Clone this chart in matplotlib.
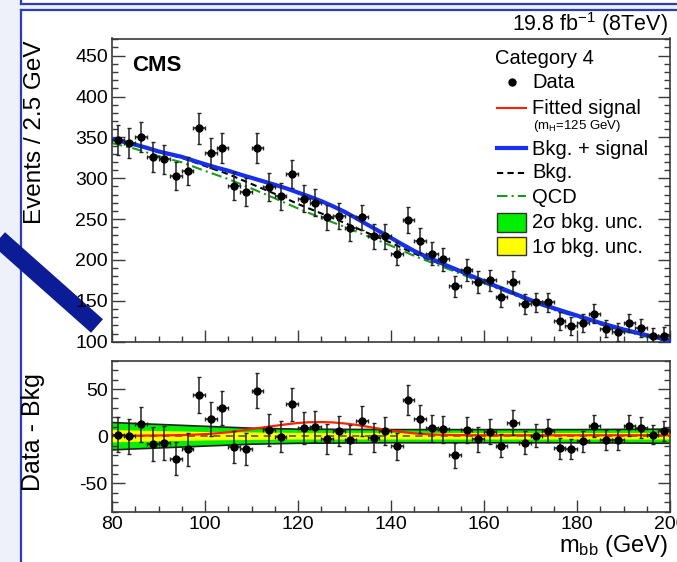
import numpy as np
import matplotlib
matplotlib.use('Agg')
import matplotlib.pyplot as plt
from matplotlib.lines import Line2D
from matplotlib.patches import Rectangle
from matplotlib.ticker import MultipleLocator

# ---------------- data ----------------
mass = [81.25, 83.75, 86.25, 88.75, 91.25, 93.75, 96.25, 98.75, 101.25, 103.75,
        106.25, 108.75, 111.25, 113.75, 116.25, 118.75, 121.25, 123.75, 126.25, 128.75,
        131.25, 133.75, 136.25, 138.75, 141.25, 143.75, 146.25, 148.75, 151.25, 153.75,
        156.25, 158.75, 161.25, 163.75, 166.25, 168.75, 171.25, 173.75, 176.25, 178.75,
        181.25, 183.75, 186.25, 188.75, 191.25, 193.75, 196.25, 198.75]
bin_half_width = 1.25
events = [347, 343, 350.6, 326, 323, 303, 309, 361, 331, 337.5,
          291, 283, 337.5, 289.6, 278, 305, 274.8, 270, 252, 254,
          239, 252, 229, 229, 207.7, 248.6, 223.7, 207.7, 201, 167.6,
          188, 173, 175, 154.5, 173, 146, 148, 148, 125.4, 119.7,
          123.3, 134.4, 116, 112, 123.3, 117, 107, 107.4]
data_minus_bkg = [1.4, 0, 12.6, -8.4, -7, -24, -13.7, 43.8, 18, 30,
                  -11.3, -13.4, 48.4, 6.6, -0.4, 33.7, 8.7, 9.8, -2.5, 5.6,
                  -3.9, 16, -1.4, 5.6, -10.5, 38.2, 18.5, 8.4, 7.4, -20.4,
                  6.3, -3.2, 4.8, -9.9, 14.4, -6.7, 0.3, 5.6, -12.6, -13.7,
                  -5.3, 10.5, -3.9, -3.9, 11.2, 9, 1.7, 5.6]

curve_mass = [80, 82.5, 85, 87.5, 90, 92.5, 95, 97.5, 100, 102.5, 105, 107.5, 110, 112.5,
              115, 117.5, 120, 122.5, 125, 127.5, 130, 132.5, 135, 137.5, 140, 142.5, 145,
              147.5, 150, 152.5, 155, 157.5, 160, 162.5, 165, 167.5, 170, 172.5, 175, 177.5,
              180, 182.5, 185, 187.5, 190, 192.5, 195, 197.5, 200]
bkg_curve = [347.5, 344, 340.5, 336.5, 332, 328.5, 325, 320, 315, 310, 305, 299, 293, 287,
             281, 275, 268.5, 262.7, 257, 251.2, 245.5, 239.2, 233, 227, 221, 214.5, 208,
             202.2, 196.5, 190.7, 185, 179, 173, 167.2, 161.5, 155.7, 150, 145, 140, 135.5,
             131, 126.5, 122, 118, 114, 110.5, 107, 103.7, 100.5]
signal_curve = [0.5, 0.55, 0.6, 0.7, 0.8, 1.0, 1.2, 1.6, 2.2, 3.0, 4.2, 5.7, 7.5, 9.3,
                11.0, 12.6, 14.0, 14.8, 15.0, 14.6, 13.5, 12.0, 10.0, 8.0, 6.0, 4.4, 3.0,
                2.2, 1.6, 1.3, 1.1, 1.0, 1.0, 1.0, 1.0, 1.0, 1.0, 1.0, 1.0, 1.0,
                1.0, 1.0, 1.0, 1.0, 1.0, 1.0, 1.0, 1.0, 1.0]
qcd_mass = [80, 85, 90, 95, 100, 105, 110, 115, 120, 125, 130, 135, 140, 145, 150, 155,
            160, 165, 170, 175, 180, 185, 190, 195, 200]
qcd_curve = [343, 336, 327, 319.5, 309, 299, 287.5, 275.5, 263, 251.5, 240.5, 229, 217.5,
             205, 194, 183, 171.5, 160.5, 149, 139, 130, 121, 113, 106, 99.5]

band_mass = [80, 90, 100, 110, 120, 140, 160, 180, 200]
two_sigma = [14.5, 12.5, 10.5, 8.5, 7.5, 7, 7, 7, 7.5]
one_sigma = [6.5, 5.5, 4.5, 4, 3.5, 3.5, 3.5, 3.5, 3.5]

x_ticks = [80, 100, 120, 140, 160, 180, 200]

legend_title = 'Category 4'
legend_labels = ['Data', 'Fitted signal', 'Bkg. + signal', 'Bkg.', 'QCD',
                 '2σ bkg. unc.', '1σ bkg. unc.']
signal_note = r'(m$_{\mathrm{H}}$=125 GeV)'

# ---------------- style ----------------
plt.rcParams['font.family'] = ['Liberation Sans', 'DejaVu Sans']
plt.rcParams['mathtext.fontset'] = 'custom'
plt.rcParams['mathtext.rm'] = 'Liberation Sans'
plt.rcParams['mathtext.it'] = 'Liberation Sans:italic'
plt.rcParams['mathtext.bf'] = 'Liberation Sans:bold'
plt.rcParams['axes.unicode_minus'] = False

W, H = 677, 562
fig = plt.figure(figsize=(W / 100, H / 100), dpi=100)
fig.patch.set_facecolor('#eef0fa')

def fx(px):
    return px / W

def fy(py):
    return 1 - py / H

# slide decorations
fig.add_artist(Rectangle((fx(21), 0), 1, fy(10), transform=fig.transFigure,
                         facecolor='white', edgecolor='none', zorder=-3))
fig.add_artist(Rectangle((fx(21), fy(3)), 1, 1, transform=fig.transFigure,
                         facecolor='white', edgecolor='none', zorder=-3))
blue = '#2a3db8'
for xs, ys in [([20.5, 20.5], [562, 9.5]), ([20.5, 20.5], [3.5, 0]),
               ([20.5, 677], [9.5, 9.5]), ([20.5, 677], [3.5, 3.5])]:
    fig.add_artist(Line2D([fx(v) for v in xs], [fy(v) for v in ys],
                          transform=fig.transFigure, color=blue, lw=1.6, zorder=-2))

# slide arrow bar (under the tick labels)
fig.add_artist(Line2D([fx(-10), fx(97)], [fy(231), fy(326)], transform=fig.transFigure,
                      color='#0c1c96', lw=13, solid_capstyle='butt', zorder=-1))

# axes
L, R = 112, 670
ax1 = fig.add_axes([fx(L), fy(341.7), fx(R - L), (341.7 - 38.5) / H])
ax2 = fig.add_axes([fx(L), fy(511.7), fx(R - L), (511.7 - 360.7) / H])

frame_col = '#3a3a3a'
for ax in (ax1, ax2):
    for s in ax.spines.values():
        s.set_color(frame_col)
        s.set_linewidth(1.2)
    ax.set_xlim(80, 200)
    ax.xaxis.set_major_locator(MultipleLocator(20))
    ax.xaxis.set_minor_locator(MultipleLocator(5))
    ax.yaxis.set_major_locator(MultipleLocator(50))
    ax.yaxis.set_minor_locator(MultipleLocator(10))
    ax.tick_params(which='both', direction='in', top=False, right=True,
                   color=frame_col, width=1.0, labelsize=14)
    ax.tick_params(which='major', length=9)
    ax.tick_params(which='minor', length=4.5)
    ax.tick_params(axis='y', pad=3)

green_line = '#1a9a1a'
blue_line = '#1530f0'
red_line = '#ff2000'
dash_bkg = (0, (3, 2))
dash_qcd = (0, (5, 2, 1, 2))

# upper panel
ev = np.array(events)
ax1.set_ylim(100, 471)
ax1.tick_params(labelbottom=False)
ax1.plot(qcd_mass, qcd_curve, color=green_line, lw=1.5, ls=dash_qcd, zorder=2)
ax1.plot(curve_mass, bkg_curve, color='black', lw=1.5, ls=dash_bkg, zorder=3)
ax1.plot(curve_mass, np.array(bkg_curve) + np.array(signal_curve), color=blue_line,
         lw=3, zorder=4)
ax1.errorbar(mass, events, yerr=np.sqrt(ev), xerr=bin_half_width, fmt='o', ms=5,
             color='black', ecolor='#222222', elinewidth=1.1, capsize=1.5,
             capthick=1.0, zorder=5)

# lower panel
ax2.set_ylim(-80, 80)
ax2.set_xticks(x_ticks)
ax2.tick_params(axis='x', pad=3)
bm = np.array(band_mass)
ts = np.array(two_sigma)
os_ = np.array(one_sigma)
ax2.fill_between(bm, -ts, ts, facecolor='#00ee00', edgecolor='none', zorder=1)
ax2.plot(bm, ts, color='#222222', lw=1.2, zorder=2)
ax2.plot(bm, -ts, color='#222222', lw=1.2, zorder=2)
ax2.fill_between(bm, -os_, os_, facecolor='#ffff00', edgecolor='none', zorder=2)
ax2.axhline(0, color='#666666', lw=1.3, ls=(0, (4, 3)), zorder=3)
ax2.plot(curve_mass, signal_curve, color=red_line, lw=1.6, zorder=4)
ax2.errorbar(mass, data_minus_bkg, yerr=np.sqrt(ev), xerr=bin_half_width, fmt='o', ms=5,
             color='black', ecolor='#222222', elinewidth=1.1, capsize=1.5,
             capthick=1.0, zorder=5)

# legend (drawn in figure pixel positions)
fs_leg = 14.5
hx0, hx1, tx = 497, 526, 532
fig.text(fx(495), fy(64), legend_title, ha='left', va='baseline', fontsize=fs_leg)
rows_base = [88.3, 114, 155, 178.3, 203, 228, 253]
rows_mid = [81.5, 108, 148.3, 173.3, 195.5, 222, 246]
for lab, yb in zip(legend_labels, rows_base):
    fig.text(fx(tx), fy(yb), lab, ha='left', va='baseline', fontsize=fs_leg)
fig.text(fx(533), fy(129.5), signal_note, ha='left', va='baseline', fontsize=9.5)
fig.add_artist(Line2D([fx((hx0 + hx1) / 2)], [fy(rows_mid[0])], transform=fig.transFigure,
                      marker='o', ms=5, color='black', ls='none'))
for y, col, lw, ls in [(rows_mid[1], red_line, 1.5, '-'), (rows_mid[2], blue_line, 3, '-'),
                       (rows_mid[3], 'black', 1.5, dash_bkg), (rows_mid[4], green_line, 1.5, dash_qcd)]:
    fig.add_artist(Line2D([fx(hx0), fx(hx1)], [fy(y), fy(y)], transform=fig.transFigure,
                          color=col, lw=lw, ls=ls))
for (ytop, ybot), col in [((212.7, 231.7), '#00ee00'), ((237.3, 255), '#ffff00')]:
    fig.add_artist(Rectangle((fx(hx0), fy(ybot)), fx(hx1 - hx0), (ybot - ytop) / H,
                             transform=fig.transFigure, facecolor=col,
                             edgecolor='#333333', lw=1))

# texts
fig.text(fx(668), fy(31), r'19.8 fb$^{-1}$ (8TeV)', ha='right', va='baseline', fontsize=15.5)
fig.text(fx(132), fy(71), 'CMS', ha='left', va='baseline', fontsize=16, fontweight='bold')
fig.text(fx(35), fy(40), 'Events / 2.5 GeV', rotation=90, ha='center', va='top', fontsize=17.5)
fig.text(fx(33), fy(432), 'Data - Bkg', rotation=90, ha='center', va='center', fontsize=18)
fig.text(fx(668), fy(552), r'm$_{\mathrm{bb}}$ (GeV)', ha='right', va='baseline', fontsize=17)

fig.savefig('out.png', dpi=100, facecolor=fig.get_facecolor())
